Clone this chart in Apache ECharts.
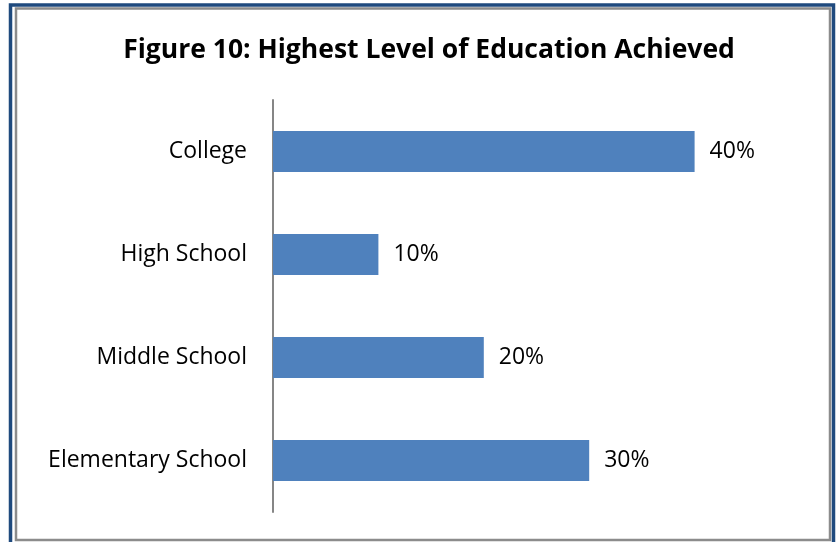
<!DOCTYPE html>
<html><head><meta charset="utf-8">
<script src="https://cdn.jsdelivr.net/npm/echarts@6/dist/echarts.min.js"></script>
<style>html,body{margin:0;padding:0;background:#fff}#c{width:840px;height:542px}</style>
</head><body><div id="c"></div>
<script>
const titleText = "Figure 10: Highest Level of Education Achieved";
const categories = ["Elementary School", "Middle School", "High School", "College"];
const values = [30, 20, 10, 40];
const tickLabels = ["0%", "10%", "20%", "30%", "40%", "50%"];

const chart = echarts.init(document.getElementById('c'), null, {renderer: 'canvas'});
const font = "'Open Sans', Lato, sans-serif";
chart.setOption({
  animation: false,
  backgroundColor: '#ffffff',
  title: {
    text: titleText, left: 424, top: 32, textAlign: 'center',
    textStyle: {fontFamily: font, fontWeight: 'bold', fontSize: 26.5, color: '#000'}
  },
  graphic: [
    {type: 'rect', shape: {x: 10.5, y: 5, width: 823, height: 560}, style: {fill: 'none', stroke: '#1f4a7e', lineWidth: 3.5}, silent: true},
    {type: 'rect', shape: {x: 16, y: 8.5, width: 814, height: 531.5}, style: {fill: 'none', stroke: '#8c8c8c', lineWidth: 2.5}, silent: true}
  ],
  grid: {left: 273, top: 100, width: 527, height: 412, containLabel: false},
  xAxis: {
    type: 'value', min: 0, max: 50, interval: 10, show: false,
    axisLabel: {formatter: v => tickLabels[v / 10]}
  },
  yAxis: {
    type: 'category', data: categories,
    axisLine: {show: true, lineStyle: {color: '#868686', width: 2}},
    axisTick: {show: false},
    axisLabel: {fontFamily: font, fontSize: 23, color: '#000', margin: 26, padding: [3, 0, 0, 0]}
  },
  series: [{
    type: 'bar', data: values, barCategoryGap: '60%',
    itemStyle: {color: '#4f81bd'},
    label: {show: true, position: 'right', distance: 15, formatter: p => p.value + '%',
      fontFamily: font, fontSize: 23, color: '#000', padding: [3, 0, 0, 0]}
  }]
});
</script></body></html>
